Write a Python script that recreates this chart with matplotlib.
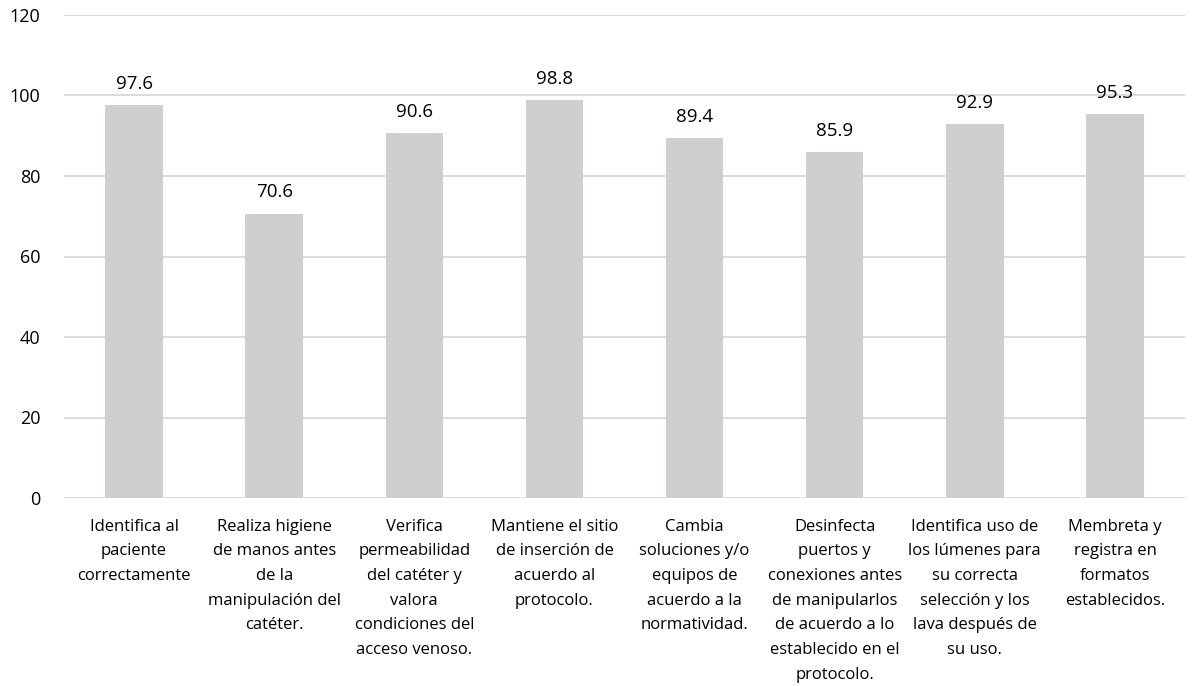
import matplotlib
matplotlib.use("Agg")
import matplotlib.pyplot as plt

categories = [
    "Identifica al\npaciente\ncorrectamente",
    "Realiza higiene\nde manos antes\nde la\nmanipulación del\ncatéter.",
    "Verifica\npermeabilidad\ndel catéter y\nvalora\ncondiciones del\nacceso venoso.",
    "Mantiene el sitio\nde inserción de\nacuerdo al\nprotocolo.",
    "Cambia\nsoluciones y/o\nequipos de\nacuerdo a la\nnormatividad.",
    "Desinfecta\npuertos y\nconexiones antes\nde manipularlos\nde acuerdo a lo\nestablecido en el\nprotocolo.",
    "Identifica uso de\nlos lúmenes para\nsu correcta\nselección y los\nlava después de\nsu uso.",
    "Membreta y\nregistra en\nformatos\nestablecidos.",
]
values = [97.6, 70.6, 90.6, 98.8, 89.4, 85.9, 92.9, 95.3]
yticks = [0, 20, 40, 60, 80, 100, 120]

plt.rcParams['font.family'] = ['Open Sans', 'DejaVu Sans']

fig = plt.figure(figsize=(12.01, 6.86), dpi=100)
ax = fig.add_axes([64/1201, 1-498/686, (1185-64)/1201, (498-15)/686])

x = list(range(len(values)))
bars = ax.bar(x, values, width=0.41, color="#D0CECE", zorder=2)
for xi, v in zip(x, values):
    ax.text(xi, v + 3.1, f"{v:.1f}", ha="center", va="bottom", fontsize=13.5, color="#000000")

ax.set_xlim(-0.5, len(values) - 0.5)
ax.set_ylim(0, 120)
ax.set_yticks(yticks)
ax.set_yticklabels([str(t) for t in yticks], fontsize=13)
ax.yaxis.grid(True, color="#D9D9D9", linewidth=1.3, zorder=0)
ax.set_axisbelow(True)
for s in ax.spines.values():
    s.set_visible(False)
ax.tick_params(axis="both", length=0)
ax.tick_params(axis="y", pad=17)
ax.set_xticks(x)
ax.set_xticklabels(categories, fontsize=12, linespacing=1.72)
ax.tick_params(axis="x", pad=15)

fig.savefig("out.png", dpi=100, facecolor="white")
